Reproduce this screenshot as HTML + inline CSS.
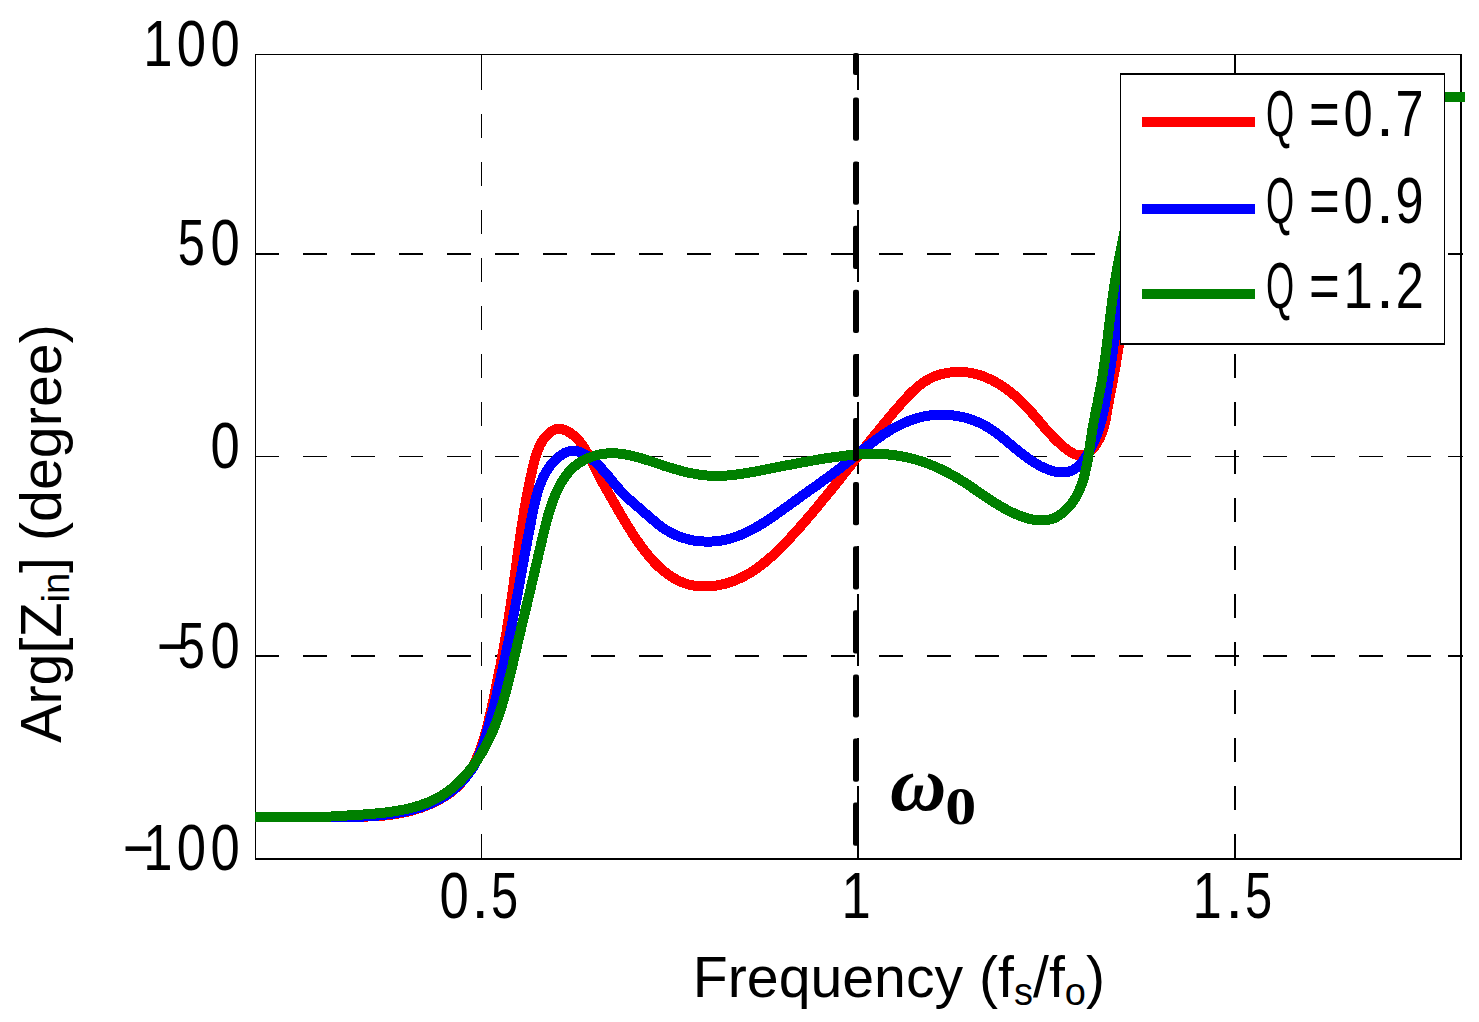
<!DOCTYPE html>
<html><head><meta charset="utf-8"><title>chart</title>
<style>html,body{margin:0;padding:0;background:#fff}svg{display:block}text{font-family:"Liberation Sans",sans-serif;fill:#000}.s{font-family:"Liberation Serif",serif}</style></head><body>
<svg width="1479" height="1022" viewBox="0 0 1479 1022">
<rect width="1479" height="1022" fill="#fff"/>
<g stroke="#000" fill="none" shape-rendering="crispEdges">
<line x1="481.5" y1="858" x2="481.5" y2="54" stroke-width="1" stroke-dasharray="24 24"/>
<line x1="481.5" y1="54" x2="481.5" y2="66" stroke-width="1"/>
<line x1="858" y1="858" x2="858" y2="54" stroke-width="2" stroke-dasharray="24 24"/>
<line x1="858" y1="54" x2="858" y2="66" stroke-width="2"/>
<line x1="1235" y1="858" x2="1235" y2="54" stroke-width="2" stroke-dasharray="24 24"/>
<line x1="1235" y1="54" x2="1235" y2="66" stroke-width="2"/>
<line x1="255" y1="254" x2="1461" y2="254" stroke-width="2" stroke-dasharray="24 24"/>
<line x1="1448" y1="254" x2="1463" y2="254" stroke-width="2"/>
<line x1="255" y1="456.5" x2="1461" y2="456.5" stroke-width="1" stroke-dasharray="24 24"/>
<line x1="1448" y1="456.5" x2="1463" y2="456.5" stroke-width="1"/>
<line x1="255" y1="656" x2="1461" y2="656" stroke-width="2" stroke-dasharray="24 24"/>
<line x1="1448" y1="656" x2="1463" y2="656" stroke-width="2"/>
</g>
<g fill="#000" shape-rendering="crispEdges">
<rect x="255" y="54" width="1207" height="1"/>
<rect x="255" y="54" width="1" height="806"/>
<rect x="255" y="858" width="1207" height="2"/>
<rect x="1460" y="54" width="2" height="806"/>
</g>
<g fill="none" stroke-width="10" stroke-linejoin="round" shape-rendering="crispEdges">
<path d="M255.0 817.0 L290.0 817.0 L320.0 817.0 L319.9 817.1 L322.5 817.0 L325.1 817.0 L327.7 816.9 L330.2 816.9 L332.8 816.9 L335.4 816.9 L337.9 816.9 L340.5 816.9 L343.0 816.8 L345.5 816.8 L348.1 816.8 L350.6 816.8 L353.1 816.8 L355.6 816.8 L358.2 816.8 L360.7 816.7 L363.2 816.7 L365.7 816.6 L368.2 816.5 L370.7 816.4 L373.2 816.3 L375.7 816.2 L378.2 816.0 L380.7 815.8 L383.2 815.6 L385.6 815.4 L388.1 815.1 L390.6 814.8 L393.1 814.4 L395.6 814.0 L398.1 813.6 L400.6 813.2 L403.1 812.7 L405.6 812.1 L408.2 811.5 L410.7 810.9 L413.2 810.2 L415.7 809.5 L418.1 808.7 L420.6 807.9 L423.1 807.0 L425.5 806.1 L427.9 805.1 L430.3 804.1 L432.7 803.0 L435.0 801.9 L437.3 800.7 L439.6 799.5 L441.8 798.3 L444.0 797.0 L446.1 795.6 L448.2 794.2 L450.3 792.7 L452.2 791.2 L454.2 789.6 L456.0 788.0 L457.8 786.3 L459.6 784.6 L461.2 782.8 L462.8 781.0 L464.4 779.1 L465.9 777.2 L467.3 775.2 L468.7 773.2 L470.0 771.1 L471.2 769.0 L472.5 766.9 L473.6 764.7 L474.7 762.5 L475.8 760.3 L476.9 758.0 L477.8 755.7 L478.8 753.4 L479.7 751.0 L480.6 748.6 L481.4 746.2 L482.3 743.8 L483.0 741.4 L483.8 738.9 L484.5 736.4 L485.2 733.9 L485.9 731.4 L486.6 728.9 L487.2 726.4 L487.9 723.9 L488.5 721.4 L489.1 718.8 L489.7 716.3 L490.3 713.7 L490.8 711.2 L491.4 708.7 L492.0 706.1 L492.5 703.6 L493.1 701.1 L493.6 698.6 L494.2 696.1 L494.7 693.5 L495.2 691.0 L495.8 688.5 L496.3 686.0 L496.8 683.5 L497.3 681.0 L497.8 678.5 L498.3 676.0 L498.8 673.5 L499.3 671.0 L499.8 668.6 L500.3 666.1 L500.8 663.6 L501.3 661.1 L501.7 658.6 L502.2 656.1 L502.6 653.7 L503.1 651.2 L503.6 648.7 L504.0 646.2 L504.4 643.7 L504.9 641.3 L505.3 638.8 L505.7 636.3 L506.2 633.8 L506.6 631.4 L507.0 628.9 L507.4 626.4 L507.8 623.9 L508.2 621.4 L508.6 619.0 L509.0 616.5 L509.3 614.0 L509.7 611.5 L510.1 609.0 L510.5 606.6 L510.8 604.1 L511.2 601.6 L511.5 599.1 L511.9 596.6 L512.2 594.1 L512.6 591.6 L512.9 589.1 L513.3 586.7 L513.6 584.2 L514.0 581.7 L514.3 579.2 L514.6 576.7 L515.0 574.2 L515.3 571.7 L515.7 569.2 L516.0 566.7 L516.3 564.2 L516.7 561.7 L517.0 559.2 L517.4 556.7 L517.7 554.2 L518.0 551.6 L518.4 549.1 L518.7 546.6 L519.1 544.1 L519.5 541.6 L519.8 539.1 L520.2 536.6 L520.6 534.0 L520.9 531.5 L521.3 529.0 L521.7 526.5 L522.1 524.0 L522.5 521.4 L522.9 518.9 L523.3 516.4 L523.7 513.9 L524.1 511.3 L524.5 508.8 L525.0 506.3 L525.4 503.7 L525.9 501.2 L526.3 498.7 L526.8 496.1 L527.3 493.6 L527.8 491.0 L528.3 488.5 L528.8 485.9 L529.3 483.4 L529.8 480.8 L530.4 478.3 L530.9 475.7 L531.5 473.2 L532.0 470.6 L532.6 468.1 L533.2 465.5 L533.9 463.0 L534.5 460.5 L535.2 458.0 L536.0 455.5 L536.8 453.1 L537.7 450.7 L538.6 448.4 L539.6 446.1 L540.7 444.0 L541.9 441.8 L543.3 439.8 L544.7 437.9 L546.2 436.1 L547.9 434.3 L549.7 432.7 L551.7 431.3 L553.7 430.2 L555.8 429.3 L558.0 428.9 L560.2 428.9 L562.5 429.3 L564.8 430.0 L567.0 431.0 L569.2 432.3 L571.4 433.7 L573.4 435.3 L575.4 437.0 L577.2 438.8 L578.9 440.7 L580.6 442.7 L582.1 444.7 L583.6 446.8 L585.0 449.0 L586.3 451.2 L587.6 453.4 L588.8 455.7 L590.0 458.0 L591.2 460.4 L592.4 462.7 L593.5 465.1 L594.6 467.4 L595.8 469.8 L596.9 472.1 L598.1 474.4 L599.3 476.7 L600.5 479.0 L601.8 481.2 L603.0 483.4 L604.3 485.6 L605.5 487.8 L606.8 490.0 L608.0 492.2 L609.3 494.4 L610.5 496.5 L611.8 498.7 L613.0 500.9 L614.2 503.0 L615.5 505.1 L616.7 507.3 L617.9 509.4 L619.1 511.5 L620.4 513.7 L621.6 515.8 L622.9 517.9 L624.1 520.1 L625.4 522.2 L626.7 524.3 L628.0 526.4 L629.3 528.6 L630.7 530.7 L632.0 532.9 L633.4 535.0 L634.9 537.2 L636.3 539.3 L637.8 541.5 L639.3 543.6 L640.8 545.8 L642.3 547.9 L643.9 550.0 L645.5 552.0 L647.2 554.1 L648.8 556.1 L650.5 558.1 L652.3 560.0 L654.0 562.0 L655.8 563.8 L657.6 565.6 L659.5 567.4 L661.4 569.1 L663.3 570.8 L665.3 572.3 L667.3 573.9 L669.3 575.3 L671.4 576.7 L673.5 578.0 L675.7 579.2 L677.8 580.4 L680.1 581.4 L682.3 582.4 L684.6 583.2 L687.0 584.0 L689.4 584.7 L691.8 585.2 L694.2 585.7 L696.7 586.0 L699.3 586.3 L701.8 586.4 L704.4 586.5 L707.0 586.4 L709.6 586.3 L712.1 586.1 L714.7 585.8 L717.3 585.4 L719.8 584.9 L722.3 584.4 L724.8 583.8 L727.3 583.1 L729.7 582.3 L732.1 581.5 L734.4 580.6 L736.7 579.7 L739.0 578.7 L741.3 577.6 L743.5 576.5 L745.7 575.3 L747.9 574.1 L750.1 572.8 L752.2 571.5 L754.3 570.1 L756.4 568.7 L758.4 567.3 L760.4 565.8 L762.4 564.2 L764.4 562.6 L766.4 561.0 L768.3 559.4 L770.2 557.7 L772.1 556.0 L774.0 554.3 L775.9 552.5 L777.7 550.8 L779.6 549.0 L781.4 547.1 L783.2 545.3 L785.0 543.4 L786.8 541.6 L788.5 539.7 L790.3 537.8 L792.0 535.9 L793.8 534.0 L795.5 532.1 L797.2 530.2 L798.9 528.3 L800.6 526.4 L802.3 524.4 L804.0 522.5 L805.7 520.6 L807.3 518.7 L809.0 516.7 L810.6 514.8 L812.3 512.8 L813.9 510.9 L815.5 508.9 L817.2 507.0 L818.8 505.0 L820.4 503.1 L822.0 501.1 L823.6 499.2 L825.2 497.2 L826.8 495.3 L828.4 493.3 L830.0 491.3 L831.6 489.4 L833.2 487.4 L834.8 485.4 L836.3 483.5 L837.9 481.5 L839.5 479.5 L841.0 477.5 L842.6 475.6 L844.2 473.6 L845.7 471.6 L847.3 469.6 L848.9 467.7 L850.4 465.7 L852.0 463.7 L853.6 461.7 L855.1 459.7 L856.7 457.8 L858.2 455.8 L859.8 453.8 L861.4 451.8 L862.9 449.9 L864.5 447.9 L866.1 445.9 L867.7 443.9 L869.2 442.0 L870.8 440.0 L872.4 438.0 L874.0 436.1 L875.6 434.1 L877.2 432.1 L878.8 430.2 L880.4 428.2 L882.0 426.3 L883.6 424.3 L885.2 422.3 L886.8 420.4 L888.5 418.4 L890.1 416.5 L891.7 414.5 L893.4 412.6 L895.0 410.7 L896.7 408.7 L898.4 406.8 L900.1 404.9 L901.7 402.9 L903.4 401.0 L905.2 399.1 L906.9 397.3 L908.6 395.4 L910.4 393.6 L912.2 391.8 L914.1 390.1 L915.9 388.4 L917.9 386.8 L919.8 385.2 L921.8 383.7 L923.8 382.3 L925.9 380.9 L928.1 379.6 L930.3 378.4 L932.5 377.3 L934.9 376.3 L937.3 375.4 L939.7 374.6 L942.2 373.9 L944.7 373.4 L947.3 372.9 L949.9 372.5 L952.5 372.2 L955.1 372.0 L957.7 371.9 L960.3 371.9 L962.8 372.0 L965.4 372.2 L967.9 372.5 L970.4 372.9 L972.8 373.3 L975.3 373.9 L977.7 374.5 L980.1 375.3 L982.4 376.0 L984.8 376.9 L987.1 377.9 L989.3 378.9 L991.6 379.9 L993.8 381.1 L996.0 382.3 L998.2 383.6 L1000.3 384.9 L1002.5 386.3 L1004.5 387.7 L1006.6 389.2 L1008.6 390.7 L1010.7 392.3 L1012.6 393.9 L1014.6 395.5 L1016.5 397.2 L1018.4 398.9 L1020.3 400.7 L1022.1 402.5 L1024.0 404.3 L1025.7 406.1 L1027.5 408.0 L1029.2 409.8 L1030.9 411.7 L1032.6 413.6 L1034.3 415.5 L1035.9 417.5 L1037.6 419.4 L1039.2 421.3 L1040.8 423.2 L1042.5 425.2 L1044.1 427.1 L1045.8 429.0 L1047.4 430.9 L1049.1 432.8 L1050.8 434.7 L1052.6 436.5 L1054.3 438.4 L1056.2 440.2 L1058.0 442.0 L1059.9 443.7 L1061.9 445.5 L1063.9 447.1 L1066.0 448.8 L1068.1 450.4 L1070.3 451.8 L1072.5 453.1 L1074.7 454.2 L1076.9 455.0 L1079.1 455.4 L1081.2 455.5 L1083.3 455.2 L1085.4 454.6 L1087.4 453.5 L1089.3 452.1 L1091.2 450.5 L1093.0 448.6 L1094.6 446.5 L1096.2 444.2 L1097.7 441.8 L1099.1 439.3 L1100.3 436.8 L1101.4 434.2 L1102.4 431.7 L1103.2 429.2 L1104.0 426.7 L1104.6 424.2 L1105.2 421.7 L1105.7 419.3 L1106.2 416.8 L1106.6 414.4 L1107.0 411.9 L1107.4 409.5 L1107.9 407.1 L1108.3 404.6 L1108.7 402.2 L1109.2 399.7 L1109.6 397.3 L1110.1 394.8 L1110.6 392.4 L1111.0 389.9 L1111.5 387.4 L1112.0 385.0 L1112.5 382.5 L1112.9 380.0 L1113.4 377.5 L1113.9 375.1 L1114.3 372.6 L1114.8 370.1 L1115.2 367.6 L1115.7 365.1 L1116.1 362.6 L1116.5 360.1 L1116.9 357.6 L1117.3 355.1 L1117.7 352.6 L1118.1 350.1 L1118.5 347.6 L1118.9 345.1 L1119.3 342.5 L1119.6 340.0 L1120.0 337.5 L1120.3 335.0 L1120.7 332.5 L1121.0 329.9 L1121.3 327.4 L1121.7 324.9 L1122.0 322.4 L1122.3 319.8 L1122.7 317.3 L1123.0 314.8 L1123.3 312.3 L1123.7 309.7 L1124.0 307.2 L1124.3 304.7 L1124.6 302.1 L1125.0 299.6 L1125.3 297.1 L1125.6 294.6 L1126.0 292.0 L1126.3 289.5 L1126.6 287.0 L1127.0 284.4 L1127.3 281.9 L1127.7 279.4 L1128.1 276.9 L1128.4 274.4 L1128.8 271.8 L1129.2 269.3 L1129.6 266.8 L1130.0 264.3 L1130.4 261.8 L1130.8 259.3 L1131.2 256.8 L1131.7 254.3 L1132.1 251.8 L1132.6 249.3 L1133.0 246.8 L1133.5 244.3 L1134.0 241.8 L1134.5 239.3 L1135.0 236.8 L1135.5 234.4 L1136.1 231.9 L1136.6 229.4 L1137.2 227.0 L1137.8 224.5 L1138.4 222.0 L1139.0 219.6 L1139.6 217.1 L1140.3 214.7 L1141.0 212.3 L1141.6 209.8 L1142.3 207.4 L1143.1 205.0 L1143.8 202.6 L1144.6 200.1 L1145.4 197.7 L1146.2 195.3 L1147.0 192.9 L1147.8 190.6 L1148.7 188.2 L1149.6 185.8 L1150.5 183.4 L1151.4 181.1 L1152.4 178.7 L1153.4 176.4 L1154.4 174.0 L1155.4 171.7 L1156.5 169.3 L1157.6 167.0 L1158.7 164.7 L1159.8 162.4 L1161.0 160.1 L1162.2 157.9 L1163.4 155.6 L1164.7 153.4 L1166.0 151.2 L1167.3 149.0 L1168.7 146.8 L1170.1 144.7 L1171.5 142.6 L1172.9 140.5 L1174.4 138.5 L1175.9 136.5 L1177.5 134.5 L1179.1 132.6 L1180.7 130.7 L1182.4 128.9 L1184.1 127.1 L1185.9 125.3 L1187.6 123.6 L1189.5 122.0 L1191.3 120.4 L1193.2 118.8 L1195.2 117.4 L1197.2 115.9 L1199.2 114.6 L1201.3 113.3 L1203.4 112.0 L1205.6 110.9 L1207.8 109.8 L1210.1 108.8 L1212.4 107.8 L1214.8 106.9 L1217.2 106.1 L1219.6 105.4 L1222.1 104.7 L1224.7 104.1 L1227.2 103.6 L1229.8 103.1 L1232.4 102.6 L1235.1 102.2 L1237.7 101.9 L1240.4 101.5 L1243.0 101.3 L1245.7 101.0 L1248.4 100.8 L1251.1 100.6 L1253.8 100.4 L1256.5 100.2 L1259.1 100.1 L1261.8 99.9 L1264.4 99.8 L1267.0 99.7 L1269.6 99.5 L1272.2 99.4 L1274.7 99.3 L1277.3 99.1 L1279.8 99.0 L1282.3 98.8 L1284.8 98.7 L1287.3 98.6 L1289.7 98.4 L1292.2 98.3 L1294.6 98.2 L1297.1 98.0 L1299.5 97.9 L1302.0 97.8 L1304.4 97.7 L1306.9 97.6 L1309.3 97.5 L1311.8 97.4 L1314.2 97.3 L1316.7 97.2 L1319.1 97.1 L1321.6 97.0 L1324.1 96.9 L1326.6 96.8 L1329.1 96.8 L1331.7 96.7 L1334.2 96.7 L1336.8 96.6 L1339.4 96.6 L1342.0 96.5 L1344.7 96.5 L1347.3 96.5 L1350.0 96.5 L1350.0 96.5 L1420.0 96.5 L1464.0 96.5" stroke="#ff0000"/>
<path d="M255.0 817.0 L290.0 817.0 L320.0 817.0 L320.0 817.0 L322.3 817.0 L324.7 817.0 L327.1 817.0 L329.4 817.0 L331.8 817.0 L334.1 817.1 L336.5 817.1 L338.8 817.0 L341.2 817.0 L343.5 817.0 L345.9 817.0 L348.2 817.0 L350.5 816.9 L352.9 816.9 L355.2 816.8 L357.6 816.8 L359.9 816.7 L362.2 816.6 L364.5 816.5 L366.9 816.4 L369.2 816.2 L371.5 816.1 L373.9 815.9 L376.2 815.7 L378.5 815.5 L380.8 815.3 L383.2 815.0 L385.5 814.7 L387.8 814.4 L390.2 814.1 L392.5 813.8 L394.8 813.4 L397.1 813.0 L399.5 812.6 L401.8 812.2 L404.1 811.7 L406.4 811.2 L408.7 810.6 L411.0 810.1 L413.3 809.5 L415.6 808.8 L417.8 808.2 L420.1 807.4 L422.3 806.7 L424.5 805.9 L426.7 805.1 L428.9 804.2 L431.1 803.3 L433.2 802.3 L435.3 801.3 L437.4 800.3 L439.5 799.2 L441.5 798.0 L443.5 796.8 L445.5 795.6 L447.4 794.3 L449.3 792.9 L451.2 791.5 L453.0 790.1 L454.8 788.6 L456.6 787.0 L458.3 785.4 L460.0 783.8 L461.6 782.1 L463.2 780.4 L464.8 778.6 L466.3 776.8 L467.7 774.9 L469.1 773.0 L470.5 771.1 L471.8 769.2 L473.1 767.2 L474.2 765.2 L475.4 763.1 L476.5 761.1 L477.5 759.0 L478.5 756.9 L479.4 754.7 L480.3 752.6 L481.1 750.4 L481.9 748.2 L482.7 746.0 L483.4 743.8 L484.2 741.6 L484.9 739.4 L485.5 737.1 L486.2 734.9 L486.8 732.6 L487.4 730.4 L488.1 728.1 L488.7 725.8 L489.3 723.5 L489.9 721.3 L490.5 719.0 L491.1 716.7 L491.7 714.4 L492.3 712.1 L492.9 709.9 L493.4 707.6 L494.0 705.3 L494.6 703.0 L495.2 700.7 L495.7 698.4 L496.3 696.1 L496.8 693.8 L497.4 691.5 L497.9 689.2 L498.5 686.9 L499.0 684.6 L499.6 682.3 L500.1 680.0 L500.6 677.7 L501.1 675.4 L501.7 673.1 L502.2 670.8 L502.7 668.5 L503.2 666.2 L503.7 663.9 L504.2 661.6 L504.7 659.3 L505.2 657.0 L505.7 654.7 L506.2 652.4 L506.7 650.2 L507.1 647.9 L507.6 645.6 L508.1 643.3 L508.6 641.0 L509.0 638.7 L509.5 636.4 L509.9 634.1 L510.4 631.8 L510.8 629.5 L511.3 627.2 L511.7 625.0 L512.2 622.7 L512.6 620.4 L513.1 618.1 L513.5 615.8 L513.9 613.5 L514.4 611.2 L514.8 609.0 L515.2 606.7 L515.6 604.4 L516.1 602.1 L516.5 599.8 L516.9 597.5 L517.3 595.3 L517.7 593.0 L518.2 590.7 L518.6 588.4 L519.0 586.1 L519.4 583.8 L519.8 581.5 L520.2 579.2 L520.7 576.9 L521.1 574.6 L521.5 572.3 L521.9 570.0 L522.3 567.7 L522.8 565.4 L523.2 563.1 L523.6 560.8 L524.0 558.5 L524.4 556.2 L524.9 553.9 L525.3 551.6 L525.7 549.3 L526.1 546.9 L526.6 544.6 L527.0 542.3 L527.4 540.0 L527.9 537.6 L528.3 535.3 L528.8 533.0 L529.2 530.6 L529.7 528.3 L530.1 525.9 L530.6 523.6 L531.0 521.2 L531.5 518.8 L532.0 516.5 L532.4 514.1 L532.9 511.7 L533.4 509.4 L533.9 507.0 L534.4 504.7 L534.9 502.3 L535.5 500.0 L536.1 497.6 L536.7 495.3 L537.3 493.0 L538.0 490.8 L538.7 488.5 L539.5 486.3 L540.3 484.1 L541.2 482.0 L542.1 479.8 L543.0 477.7 L544.0 475.7 L545.1 473.7 L546.2 471.7 L547.4 469.8 L548.7 467.9 L550.0 466.1 L551.4 464.3 L552.9 462.6 L554.5 460.9 L556.1 459.3 L557.9 457.7 L559.7 456.3 L561.6 454.9 L563.6 453.6 L565.6 452.5 L567.7 451.7 L569.9 451.1 L572.1 450.8 L574.3 450.8 L576.5 451.1 L578.7 451.7 L580.9 452.5 L583.0 453.5 L585.1 454.7 L587.2 455.9 L589.1 457.2 L591.0 458.6 L592.9 460.1 L594.7 461.6 L596.4 463.2 L598.1 464.9 L599.8 466.5 L601.4 468.3 L603.0 470.1 L604.6 471.9 L606.2 473.7 L607.7 475.5 L609.3 477.4 L610.8 479.2 L612.3 481.1 L613.8 482.9 L615.4 484.8 L616.9 486.6 L618.4 488.4 L620.0 490.1 L621.6 491.8 L623.2 493.5 L624.9 495.2 L626.5 496.8 L628.2 498.4 L629.9 499.9 L631.6 501.5 L633.3 503.0 L635.1 504.5 L636.8 506.0 L638.6 507.5 L640.3 509.0 L642.1 510.6 L643.8 512.1 L645.6 513.7 L647.4 515.2 L649.2 516.8 L651.0 518.3 L652.8 519.9 L654.6 521.4 L656.4 522.9 L658.3 524.4 L660.2 525.9 L662.1 527.3 L664.0 528.6 L666.0 529.9 L668.0 531.1 L670.0 532.3 L672.1 533.4 L674.2 534.4 L676.4 535.4 L678.5 536.3 L680.7 537.1 L683.0 537.8 L685.2 538.5 L687.5 539.1 L689.8 539.7 L692.0 540.1 L694.4 540.6 L696.7 540.9 L699.0 541.2 L701.3 541.4 L703.7 541.5 L706.0 541.6 L708.4 541.6 L710.7 541.6 L713.0 541.4 L715.4 541.3 L717.7 541.0 L720.0 540.7 L722.3 540.3 L724.6 539.9 L726.8 539.4 L729.1 538.8 L731.3 538.2 L733.5 537.5 L735.7 536.8 L737.9 536.0 L740.0 535.1 L742.2 534.3 L744.3 533.3 L746.4 532.3 L748.5 531.3 L750.6 530.3 L752.7 529.2 L754.8 528.1 L756.9 526.9 L758.9 525.7 L761.0 524.5 L763.0 523.2 L765.0 522.0 L767.0 520.7 L769.0 519.3 L771.0 518.0 L773.0 516.7 L775.0 515.3 L776.9 513.9 L778.9 512.5 L780.8 511.1 L782.8 509.7 L784.7 508.3 L786.6 506.9 L788.6 505.5 L790.5 504.1 L792.4 502.7 L794.3 501.4 L796.2 500.0 L798.1 498.6 L800.0 497.3 L801.9 495.9 L803.8 494.5 L805.7 493.2 L807.6 491.9 L809.5 490.5 L811.4 489.2 L813.2 487.8 L815.1 486.5 L817.0 485.2 L818.9 483.8 L820.7 482.5 L822.6 481.1 L824.4 479.8 L826.3 478.4 L828.2 477.1 L830.0 475.7 L831.9 474.3 L833.7 472.9 L835.6 471.5 L837.4 470.1 L839.3 468.7 L841.1 467.2 L843.0 465.8 L844.8 464.3 L846.6 462.8 L848.5 461.3 L850.3 459.9 L852.2 458.4 L854.0 456.9 L855.9 455.4 L857.7 453.9 L859.6 452.4 L861.5 450.9 L863.3 449.4 L865.2 447.9 L867.1 446.4 L869.0 445.0 L870.9 443.5 L872.8 442.1 L874.7 440.7 L876.6 439.3 L878.5 437.9 L880.5 436.6 L882.4 435.2 L884.4 433.9 L886.4 432.7 L888.3 431.4 L890.3 430.2 L892.3 429.0 L894.4 427.9 L896.4 426.7 L898.4 425.7 L900.5 424.6 L902.6 423.6 L904.7 422.7 L906.8 421.8 L908.9 420.9 L911.1 420.1 L913.3 419.4 L915.4 418.7 L917.7 418.0 L919.9 417.4 L922.1 416.9 L924.4 416.4 L926.7 416.0 L929.0 415.6 L931.3 415.3 L933.7 415.1 L936.0 414.9 L938.4 414.8 L940.7 414.7 L943.1 414.7 L945.5 414.8 L947.8 414.9 L950.2 415.1 L952.6 415.4 L954.9 415.7 L957.3 416.0 L959.6 416.5 L961.9 416.9 L964.2 417.5 L966.5 418.1 L968.8 418.8 L971.1 419.5 L973.3 420.3 L975.5 421.1 L977.7 422.0 L979.8 423.0 L981.9 424.0 L984.0 425.1 L986.0 426.2 L988.0 427.4 L990.0 428.6 L991.9 429.9 L993.8 431.2 L995.7 432.6 L997.6 434.0 L999.5 435.4 L1001.3 436.8 L1003.2 438.3 L1005.0 439.8 L1006.8 441.3 L1008.6 442.8 L1010.4 444.3 L1012.2 445.8 L1014.0 447.3 L1015.9 448.9 L1017.7 450.4 L1019.5 451.8 L1021.4 453.3 L1023.2 454.8 L1025.1 456.2 L1027.0 457.6 L1028.9 459.0 L1030.9 460.3 L1032.8 461.6 L1034.8 462.9 L1036.9 464.1 L1038.9 465.3 L1041.0 466.4 L1043.2 467.4 L1045.3 468.4 L1047.5 469.3 L1049.8 470.1 L1052.0 470.8 L1054.2 471.4 L1056.5 471.9 L1058.7 472.2 L1060.9 472.4 L1063.0 472.4 L1065.2 472.3 L1067.3 471.9 L1069.3 471.4 L1071.3 470.7 L1073.3 469.8 L1075.1 468.6 L1076.9 467.3 L1078.7 465.8 L1080.3 464.1 L1081.9 462.3 L1083.5 460.4 L1084.9 458.3 L1086.3 456.2 L1087.7 454.0 L1089.0 451.8 L1090.2 449.6 L1091.4 447.3 L1092.5 445.1 L1093.5 442.9 L1094.5 440.6 L1095.4 438.4 L1096.3 436.2 L1097.2 434.0 L1098.0 431.8 L1098.7 429.6 L1099.4 427.4 L1100.1 425.2 L1100.7 423.0 L1101.3 420.8 L1101.9 418.6 L1102.4 416.3 L1102.9 414.1 L1103.4 411.9 L1103.8 409.7 L1104.3 407.5 L1104.7 405.3 L1105.1 403.0 L1105.5 400.8 L1105.8 398.5 L1106.2 396.3 L1106.5 394.0 L1106.9 391.7 L1107.2 389.4 L1107.6 387.1 L1107.9 384.8 L1108.3 382.5 L1108.6 380.2 L1108.9 377.8 L1109.3 375.5 L1109.6 373.1 L1110.0 370.8 L1110.3 368.4 L1110.7 366.0 L1111.0 363.6 L1111.4 361.3 L1111.7 358.9 L1112.0 356.5 L1112.4 354.1 L1112.7 351.7 L1113.1 349.4 L1113.4 347.0 L1113.7 344.6 L1114.1 342.2 L1114.4 339.9 L1114.8 337.5 L1115.1 335.2 L1115.4 332.8 L1115.8 330.5 L1116.1 328.2 L1116.4 325.9 L1116.8 323.5 L1117.1 321.2 L1117.5 318.9 L1117.8 316.6 L1118.1 314.3 L1118.5 312.0 L1118.8 309.7 L1119.2 307.5 L1119.5 305.2 L1119.9 302.9 L1120.2 300.6 L1120.5 298.3 L1120.9 296.1 L1121.3 293.8 L1121.6 291.5 L1122.0 289.3 L1122.3 287.0 L1122.7 284.7 L1123.1 282.5 L1123.4 280.2 L1123.8 277.9 L1124.2 275.7 L1124.6 273.4 L1125.0 271.1 L1125.4 268.9 L1125.8 266.6 L1126.2 264.3 L1126.6 262.1 L1127.0 259.8 L1127.4 257.5 L1127.8 255.2 L1128.2 253.0 L1128.7 250.7 L1129.1 248.4 L1129.6 246.1 L1130.0 243.8 L1130.5 241.5 L1130.9 239.2 L1131.4 236.9 L1131.9 234.6 L1132.4 232.3 L1132.8 229.9 L1133.3 227.6 L1133.8 225.3 L1134.4 222.9 L1134.9 220.6 L1135.4 218.2 L1135.9 215.9 L1136.5 213.5 L1137.0 211.1 L1137.6 208.8 L1138.2 206.4 L1138.8 204.0 L1139.4 201.7 L1140.0 199.3 L1140.7 196.9 L1141.3 194.6 L1142.0 192.2 L1142.7 189.9 L1143.4 187.6 L1144.1 185.2 L1144.9 182.9 L1145.6 180.6 L1146.4 178.3 L1147.3 176.1 L1148.1 173.8 L1149.0 171.6 L1149.9 169.4 L1150.8 167.2 L1151.7 165.0 L1152.7 162.8 L1153.7 160.7 L1154.8 158.6 L1155.8 156.5 L1156.9 154.4 L1158.1 152.4 L1159.2 150.4 L1160.4 148.4 L1161.7 146.5 L1162.9 144.6 L1164.2 142.7 L1165.6 140.9 L1167.0 139.1 L1168.4 137.4 L1169.9 135.6 L1171.4 134.0 L1172.9 132.3 L1174.5 130.7 L1176.2 129.2 L1177.9 127.7 L1179.6 126.2 L1181.3 124.8 L1183.2 123.4 L1185.0 122.1 L1186.9 120.8 L1188.8 119.5 L1190.7 118.3 L1192.7 117.2 L1194.7 116.0 L1196.8 114.9 L1198.9 113.9 L1201.0 112.9 L1203.1 111.9 L1205.3 111.0 L1207.4 110.1 L1209.6 109.2 L1211.9 108.4 L1214.1 107.6 L1216.4 106.8 L1218.6 106.1 L1220.9 105.4 L1223.3 104.7 L1225.6 104.1 L1227.9 103.5 L1230.3 103.0 L1232.6 102.4 L1235.0 101.9 L1237.4 101.5 L1239.7 101.0 L1242.1 100.6 L1244.5 100.2 L1246.9 99.9 L1249.3 99.6 L1251.7 99.3 L1254.0 99.0 L1256.4 98.8 L1258.8 98.6 L1261.2 98.4 L1263.5 98.2 L1265.9 98.1 L1268.2 97.9 L1270.6 97.8 L1272.9 97.8 L1275.3 97.7 L1277.6 97.7 L1279.9 97.6 L1282.3 97.6 L1284.6 97.6 L1286.9 97.6 L1289.2 97.6 L1291.5 97.6 L1293.8 97.7 L1296.2 97.7 L1298.5 97.7 L1300.8 97.8 L1303.1 97.8 L1305.4 97.8 L1307.7 97.9 L1310.0 97.9 L1312.3 97.9 L1314.7 98.0 L1317.0 98.0 L1319.3 98.0 L1321.6 98.0 L1324.0 97.9 L1326.3 97.9 L1328.7 97.8 L1331.0 97.8 L1333.4 97.7 L1335.7 97.6 L1338.1 97.4 L1340.5 97.3 L1342.8 97.1 L1345.2 96.9 L1347.6 96.7 L1350.0 96.4 L1350.0 96.5 L1420.0 96.5 L1464.0 96.5" stroke="#0000ff"/>
<path d="M255.0 817.0 L290.0 817.0 L320.0 817.0 L320.6 817.5 L322.7 817.3 L324.8 817.1 L326.9 816.9 L329.1 816.7 L331.2 816.5 L333.4 816.4 L335.6 816.2 L337.8 816.1 L340.1 815.9 L342.3 815.8 L344.6 815.7 L346.8 815.5 L349.1 815.4 L351.4 815.3 L353.7 815.1 L356.0 815.0 L358.3 814.8 L360.6 814.7 L362.9 814.5 L365.3 814.4 L367.6 814.2 L369.9 814.0 L372.2 813.8 L374.6 813.6 L376.9 813.4 L379.3 813.2 L381.6 812.9 L383.9 812.7 L386.2 812.4 L388.6 812.1 L390.9 811.8 L393.2 811.4 L395.5 811.1 L397.8 810.7 L400.1 810.3 L402.3 809.8 L404.6 809.4 L406.8 808.9 L409.1 808.4 L411.3 807.8 L413.5 807.2 L415.7 806.6 L417.9 805.9 L420.0 805.3 L422.2 804.5 L424.3 803.8 L426.4 803.0 L428.5 802.1 L430.5 801.2 L432.6 800.3 L434.6 799.4 L436.6 798.3 L438.5 797.3 L440.5 796.2 L442.4 795.0 L444.2 793.8 L446.1 792.6 L447.9 791.3 L449.7 790.0 L451.5 788.6 L453.2 787.2 L454.9 785.7 L456.6 784.2 L458.3 782.7 L459.9 781.1 L461.5 779.5 L463.1 777.8 L464.6 776.2 L466.1 774.5 L467.6 772.7 L469.1 771.0 L470.5 769.2 L471.9 767.4 L473.3 765.5 L474.6 763.7 L476.0 761.8 L477.3 759.9 L478.5 757.9 L479.8 756.0 L481.0 754.0 L482.2 752.0 L483.3 750.1 L484.4 748.0 L485.5 746.0 L486.6 744.0 L487.6 742.0 L488.7 739.9 L489.6 737.8 L490.6 735.8 L491.5 733.7 L492.5 731.6 L493.4 729.5 L494.2 727.4 L495.1 725.3 L495.9 723.2 L496.7 721.0 L497.5 718.9 L498.3 716.7 L499.0 714.6 L499.7 712.4 L500.5 710.3 L501.2 708.1 L501.8 705.9 L502.5 703.7 L503.2 701.5 L503.8 699.3 L504.4 697.1 L505.0 694.9 L505.7 692.7 L506.2 690.5 L506.8 688.3 L507.4 686.1 L508.0 683.9 L508.5 681.7 L509.1 679.4 L509.6 677.2 L510.2 675.0 L510.7 672.8 L511.2 670.5 L511.8 668.3 L512.3 666.1 L512.8 663.8 L513.3 661.6 L513.9 659.4 L514.4 657.1 L514.9 654.9 L515.4 652.7 L516.0 650.4 L516.5 648.2 L517.0 646.0 L517.5 643.8 L518.1 641.5 L518.6 639.3 L519.1 637.1 L519.6 634.9 L520.2 632.6 L520.7 630.4 L521.2 628.2 L521.7 626.0 L522.3 623.8 L522.8 621.5 L523.3 619.3 L523.9 617.1 L524.4 614.9 L524.9 612.7 L525.4 610.5 L526.0 608.2 L526.5 606.0 L527.0 603.8 L527.5 601.6 L528.1 599.4 L528.6 597.2 L529.1 595.0 L529.6 592.8 L530.2 590.5 L530.7 588.3 L531.2 586.1 L531.7 583.9 L532.2 581.7 L532.8 579.5 L533.3 577.3 L533.8 575.1 L534.3 572.9 L534.8 570.7 L535.3 568.4 L535.9 566.2 L536.4 564.0 L536.9 561.8 L537.4 559.6 L537.9 557.4 L538.4 555.2 L539.0 552.9 L539.5 550.7 L540.0 548.5 L540.5 546.3 L541.0 544.0 L541.6 541.8 L542.1 539.6 L542.6 537.3 L543.1 535.1 L543.7 532.8 L544.2 530.6 L544.8 528.3 L545.3 526.1 L545.9 523.9 L546.5 521.6 L547.1 519.4 L547.7 517.2 L548.3 514.9 L549.0 512.7 L549.7 510.5 L550.4 508.3 L551.1 506.1 L551.8 503.9 L552.6 501.7 L553.4 499.6 L554.3 497.4 L555.1 495.3 L556.0 493.1 L557.0 491.0 L558.0 488.9 L559.0 486.8 L560.1 484.8 L561.2 482.8 L562.4 480.8 L563.6 478.8 L564.9 477.0 L566.2 475.1 L567.6 473.4 L569.1 471.6 L570.6 470.0 L572.2 468.4 L573.9 466.9 L575.6 465.5 L577.4 464.2 L579.3 462.9 L581.2 461.7 L583.1 460.6 L585.1 459.6 L587.1 458.6 L589.2 457.7 L591.3 456.9 L593.4 456.2 L595.5 455.5 L597.7 455.0 L599.9 454.5 L602.1 454.1 L604.3 453.8 L606.5 453.5 L608.7 453.4 L611.0 453.3 L613.2 453.3 L615.4 453.4 L617.7 453.5 L619.9 453.7 L622.1 454.0 L624.4 454.4 L626.6 454.7 L628.9 455.2 L631.1 455.7 L633.4 456.2 L635.6 456.7 L637.8 457.3 L640.1 458.0 L642.3 458.6 L644.6 459.3 L646.8 460.0 L649.1 460.7 L651.3 461.5 L653.5 462.2 L655.8 463.0 L658.0 463.7 L660.3 464.5 L662.5 465.2 L664.7 466.0 L666.9 466.7 L669.2 467.4 L671.4 468.1 L673.6 468.7 L675.8 469.4 L678.0 470.0 L680.2 470.6 L682.4 471.2 L684.7 471.7 L686.9 472.3 L689.1 472.8 L691.3 473.2 L693.5 473.6 L695.7 474.0 L697.9 474.4 L700.1 474.7 L702.3 475.0 L704.6 475.3 L706.8 475.5 L709.0 475.6 L711.3 475.8 L713.5 475.8 L715.7 475.9 L718.0 475.9 L720.2 475.8 L722.5 475.7 L724.7 475.6 L727.0 475.5 L729.3 475.3 L731.5 475.1 L733.8 474.9 L736.1 474.6 L738.3 474.3 L740.6 474.0 L742.9 473.6 L745.2 473.3 L747.4 472.9 L749.7 472.5 L752.0 472.1 L754.2 471.7 L756.5 471.3 L758.8 470.9 L761.0 470.4 L763.3 470.0 L765.5 469.5 L767.8 469.1 L770.1 468.6 L772.3 468.2 L774.5 467.7 L776.8 467.3 L779.0 466.8 L781.3 466.4 L783.5 466.0 L785.7 465.5 L787.9 465.1 L790.2 464.7 L792.4 464.3 L794.6 463.8 L796.9 463.4 L799.1 463.0 L801.3 462.6 L803.5 462.2 L805.8 461.8 L808.0 461.4 L810.3 461.0 L812.5 460.6 L814.7 460.2 L817.0 459.8 L819.2 459.4 L821.5 459.1 L823.8 458.7 L826.0 458.3 L828.3 458.0 L830.6 457.6 L832.9 457.3 L835.1 457.0 L837.4 456.7 L839.7 456.4 L842.0 456.1 L844.3 455.8 L846.6 455.5 L848.8 455.3 L851.1 455.1 L853.4 454.8 L855.7 454.7 L858.0 454.5 L860.3 454.3 L862.6 454.2 L864.9 454.1 L867.1 454.0 L869.4 453.9 L871.7 453.9 L874.0 453.9 L876.3 453.9 L878.5 454.0 L880.8 454.0 L883.1 454.1 L885.3 454.3 L887.6 454.4 L889.8 454.6 L892.1 454.9 L894.3 455.1 L896.6 455.5 L898.8 455.8 L901.0 456.2 L903.3 456.6 L905.5 457.0 L907.7 457.5 L909.9 458.0 L912.1 458.6 L914.3 459.2 L916.4 459.8 L918.6 460.5 L920.8 461.2 L922.9 461.9 L925.1 462.6 L927.2 463.4 L929.4 464.2 L931.5 465.1 L933.6 465.9 L935.7 466.8 L937.8 467.8 L939.9 468.7 L941.9 469.7 L944.0 470.7 L946.0 471.8 L948.1 472.8 L950.1 473.9 L952.1 475.0 L954.1 476.1 L956.1 477.3 L958.1 478.5 L960.1 479.7 L962.0 480.9 L963.9 482.1 L965.9 483.4 L967.8 484.6 L969.7 485.9 L971.6 487.2 L973.5 488.5 L975.4 489.8 L977.3 491.1 L979.2 492.4 L981.1 493.7 L983.0 495.0 L984.9 496.3 L986.9 497.6 L988.8 498.9 L990.7 500.1 L992.6 501.4 L994.6 502.6 L996.5 503.8 L998.5 505.0 L1000.4 506.2 L1002.4 507.4 L1004.4 508.5 L1006.4 509.6 L1008.5 510.6 L1010.5 511.7 L1012.6 512.7 L1014.7 513.6 L1016.8 514.5 L1018.9 515.4 L1021.1 516.2 L1023.3 517.0 L1025.5 517.7 L1027.7 518.4 L1029.9 519.0 L1032.1 519.4 L1034.3 519.8 L1036.5 520.2 L1038.7 520.4 L1040.9 520.5 L1043.0 520.4 L1045.2 520.3 L1047.3 520.0 L1049.4 519.6 L1051.4 519.1 L1053.4 518.4 L1055.3 517.6 L1057.3 516.6 L1059.1 515.5 L1060.9 514.2 L1062.7 512.9 L1064.4 511.4 L1066.0 509.9 L1067.6 508.3 L1069.1 506.6 L1070.6 504.8 L1072.0 503.0 L1073.3 501.1 L1074.6 499.2 L1075.8 497.2 L1076.9 495.2 L1077.9 493.2 L1078.9 491.1 L1079.8 489.0 L1080.7 486.9 L1081.5 484.8 L1082.3 482.6 L1083.0 480.4 L1083.7 478.2 L1084.3 476.0 L1084.9 473.7 L1085.4 471.5 L1085.9 469.2 L1086.4 466.9 L1086.9 464.6 L1087.3 462.3 L1087.7 460.0 L1088.1 457.7 L1088.5 455.3 L1088.8 453.0 L1089.2 450.7 L1089.5 448.3 L1089.9 446.0 L1090.2 443.7 L1090.5 441.3 L1090.9 439.0 L1091.2 436.7 L1091.6 434.4 L1092.0 432.1 L1092.3 429.9 L1092.7 427.6 L1093.1 425.3 L1093.5 423.1 L1093.9 420.9 L1094.4 418.6 L1094.8 416.4 L1095.2 414.2 L1095.7 412.0 L1096.1 409.8 L1096.6 407.6 L1097.0 405.4 L1097.5 403.2 L1097.9 401.0 L1098.3 398.8 L1098.8 396.6 L1099.2 394.4 L1099.6 392.2 L1100.1 390.0 L1100.5 387.8 L1100.9 385.6 L1101.3 383.4 L1101.6 381.2 L1102.0 378.9 L1102.4 376.7 L1102.7 374.5 L1103.1 372.2 L1103.4 370.0 L1103.7 367.7 L1104.1 365.5 L1104.4 363.2 L1104.7 361.0 L1105.0 358.7 L1105.3 356.4 L1105.6 354.2 L1105.9 351.9 L1106.2 349.6 L1106.5 347.3 L1106.8 345.1 L1107.1 342.8 L1107.3 340.5 L1107.6 338.2 L1107.9 335.9 L1108.2 333.7 L1108.4 331.4 L1108.7 329.1 L1109.0 326.8 L1109.3 324.5 L1109.5 322.2 L1109.8 319.9 L1110.1 317.7 L1110.4 315.4 L1110.6 313.1 L1110.9 310.8 L1111.2 308.5 L1111.5 306.2 L1111.8 304.0 L1112.1 301.7 L1112.4 299.4 L1112.7 297.1 L1113.0 294.9 L1113.3 292.6 L1113.7 290.3 L1114.0 288.1 L1114.3 285.8 L1114.7 283.6 L1115.0 281.3 L1115.4 279.1 L1115.8 276.8 L1116.2 274.6 L1116.5 272.4 L1116.9 270.1 L1117.3 267.9 L1117.7 265.7 L1118.2 263.4 L1118.6 261.2 L1119.0 259.0 L1119.4 256.8 L1119.9 254.6 L1120.3 252.3 L1120.8 250.1 L1121.2 247.9 L1121.7 245.7 L1122.1 243.4 L1122.6 241.2 L1123.0 239.0 L1123.5 236.8 L1124.0 234.5 L1124.4 232.3 L1124.9 230.1 L1125.4 227.8 L1125.8 225.6 L1126.3 223.3 L1126.8 221.1 L1127.3 218.8 L1127.8 216.6 L1128.3 214.3 L1128.8 212.1 L1129.3 209.8 L1129.8 207.6 L1130.3 205.3 L1130.9 203.1 L1131.4 200.8 L1132.0 198.6 L1132.6 196.4 L1133.1 194.2 L1133.8 191.9 L1134.4 189.7 L1135.0 187.5 L1135.7 185.3 L1136.4 183.1 L1137.1 180.9 L1137.8 178.7 L1138.5 176.6 L1139.3 174.4 L1140.1 172.3 L1140.9 170.1 L1141.8 168.0 L1142.6 165.9 L1143.5 163.8 L1144.5 161.7 L1145.4 159.6 L1146.4 157.6 L1147.4 155.5 L1148.5 153.5 L1149.6 151.5 L1150.7 149.5 L1151.8 147.5 L1153.0 145.5 L1154.2 143.6 L1155.5 141.7 L1156.8 139.8 L1158.1 137.9 L1159.5 136.1 L1160.9 134.3 L1162.3 132.5 L1163.8 130.8 L1165.4 129.1 L1166.9 127.5 L1168.6 125.9 L1170.2 124.4 L1171.9 122.9 L1173.7 121.4 L1175.4 120.1 L1177.3 118.8 L1179.2 117.5 L1181.1 116.3 L1183.0 115.1 L1185.0 114.0 L1187.0 113.0 L1189.1 112.0 L1191.2 111.1 L1193.3 110.2 L1195.4 109.3 L1197.6 108.5 L1199.8 107.7 L1202.0 107.0 L1204.2 106.3 L1206.4 105.7 L1208.6 105.1 L1210.9 104.5 L1213.1 104.0 L1215.4 103.5 L1217.6 103.0 L1219.9 102.6 L1222.1 102.2 L1224.4 101.8 L1226.7 101.4 L1229.0 101.1 L1231.3 100.8 L1233.5 100.5 L1235.8 100.3 L1238.1 100.0 L1240.4 99.8 L1242.7 99.6 L1245.0 99.4 L1247.3 99.3 L1249.6 99.1 L1251.9 99.0 L1254.2 98.8 L1256.5 98.7 L1258.8 98.6 L1261.1 98.5 L1263.4 98.4 L1265.7 98.3 L1267.9 98.2 L1270.2 98.1 L1272.5 98.0 L1274.8 97.9 L1277.1 97.8 L1279.3 97.7 L1281.6 97.7 L1283.9 97.6 L1286.2 97.5 L1288.4 97.5 L1290.7 97.4 L1293.0 97.4 L1295.2 97.3 L1297.5 97.3 L1299.8 97.2 L1302.1 97.2 L1304.3 97.1 L1306.6 97.1 L1308.9 97.0 L1311.1 97.0 L1313.4 97.0 L1315.7 96.9 L1318.0 96.9 L1320.2 96.9 L1322.5 96.8 L1324.8 96.8 L1327.1 96.8 L1329.4 96.7 L1331.7 96.7 L1333.9 96.7 L1336.2 96.7 L1338.5 96.6 L1340.8 96.6 L1343.1 96.6 L1345.4 96.6 L1347.7 96.5 L1350.0 96.5 L1350.0 96.5 L1420.0 96.5 L1465.0 96.5" stroke="#008000"/>
</g>
<g fill="#000">
<rect x="853" y="53.0" width="6" height="22.0" rx="2"/>
<rect x="853" y="97.5" width="6" height="43.2" rx="2"/>
<rect x="853" y="161.6" width="6" height="43.2" rx="2"/>
<rect x="853" y="225.7" width="6" height="43.2" rx="2"/>
<rect x="853" y="289.8" width="6" height="43.2" rx="2"/>
<rect x="853" y="353.9" width="6" height="43.2" rx="2"/>
<rect x="853" y="418.0" width="6" height="43.2" rx="2"/>
<rect x="853" y="482.1" width="6" height="43.2" rx="2"/>
<rect x="853" y="546.2" width="6" height="43.2" rx="2"/>
<rect x="853" y="610.3" width="6" height="43.2" rx="2"/>
<rect x="853" y="674.4" width="6" height="43.2" rx="2"/>
<rect x="853" y="738.5" width="6" height="43.2" rx="2"/>
<rect x="853" y="802.6" width="6" height="43.2" rx="2"/>
</g>
<g shape-rendering="crispEdges"><rect x="1120" y="73" width="325" height="272" fill="#000"/><rect x="1121" y="75" width="323" height="268" fill="#fff"/></g>
<rect x="1142" y="117" width="113" height="10" fill="#ff0000" shape-rendering="crispEdges"/>
<rect x="1142" y="204" width="113" height="10" fill="#0000ff" shape-rendering="crispEdges"/>
<rect x="1142" y="288.5" width="113" height="10" fill="#008000" shape-rendering="crispEdges"/>
<text transform="translate(143.3,66) scale(0.815,1)" font-size="64.6">1</text>
<text transform="translate(176.8,66) scale(0.815,1)" font-size="64.6">0</text>
<text transform="translate(210.6,66) scale(0.815,1)" font-size="64.6">0</text>
<text transform="translate(143.3,870) scale(0.815,1)" font-size="64.6">1</text>
<text transform="translate(176.8,870) scale(0.815,1)" font-size="64.6">0</text>
<text transform="translate(210.6,870) scale(0.815,1)" font-size="64.6">0</text>
<text transform="translate(177.8,265) scale(0.755,1)" font-size="64.6">5</text>
<text transform="translate(210.6,265) scale(0.815,1)" font-size="64.6">0</text>
<text transform="translate(177.8,668) scale(0.755,1)" font-size="64.6">5</text>
<text transform="translate(210.6,668) scale(0.815,1)" font-size="64.6">0</text>
<text transform="translate(210.6,468) scale(0.815,1)" font-size="64.6">0</text>
<text x="157" y="668" font-size="64.6" textLength="31" lengthAdjust="spacingAndGlyphs">−</text>
<text x="123" y="870" font-size="64.6" textLength="31" lengthAdjust="spacingAndGlyphs">−</text>
<text transform="translate(439.6,918) scale(0.815,1)" font-size="64.6">0</text>
<text x="471.2" y="918" font-size="64.6">.</text>
<text transform="translate(490.9,918) scale(0.755,1)" font-size="64.6">5</text>
<text transform="translate(841.5,918) scale(0.815,1)" font-size="64.6">1</text>
<text transform="translate(1192.4,918) scale(0.815,1)" font-size="64.6">1</text>
<text x="1225.2" y="918" font-size="64.6">.</text>
<text transform="translate(1244.9,918) scale(0.755,1)" font-size="64.6">5</text>
<text transform="translate(1266,135.9) scale(0.56,1)" font-size="64.6">Q</text>
<text transform="translate(1309,135.9) scale(0.815,1)" font-size="64.6">=</text>
<text transform="translate(1343.6,135.9) scale(0.815,1)" font-size="64.6">0</text>
<text x="1376.1" y="135.9" font-size="64.6">.</text>
<text transform="translate(1395.4,135.9) scale(0.78,1)" font-size="64.6">7</text>
<text transform="translate(1266,222.7) scale(0.56,1)" font-size="64.6">Q</text>
<text transform="translate(1309,222.7) scale(0.815,1)" font-size="64.6">=</text>
<text transform="translate(1343.6,222.7) scale(0.815,1)" font-size="64.6">0</text>
<text x="1376.1" y="222.7" font-size="64.6">.</text>
<text transform="translate(1395.4,222.7) scale(0.78,1)" font-size="64.6">9</text>
<text transform="translate(1266,308) scale(0.56,1)" font-size="64.6">Q</text>
<text transform="translate(1309,308) scale(0.815,1)" font-size="64.6">=</text>
<text transform="translate(1343.6,308) scale(0.815,1)" font-size="64.6">1</text>
<text x="1376.1" y="308" font-size="64.6">.</text>
<text transform="translate(1395.8,308.0) scale(0.78,1)" font-size="64.6">2</text>
<text x="692.8" y="996.5" font-size="58" textLength="412.2" lengthAdjust="spacingAndGlyphs">Frequency (f<tspan font-size="38.5" dy="8">s</tspan><tspan dy="-8">/f</tspan><tspan font-size="38.5" dy="8">o</tspan><tspan dy="-8">)</tspan></text>
<text transform="translate(61,742.8) rotate(-90)" font-size="58" textLength="418.6" lengthAdjust="spacingAndGlyphs">Arg[Z<tspan font-size="38.5" dy="8">in</tspan><tspan dy="-8">] (degree)</tspan></text>
<text class="s" x="890" y="810" font-size="78" font-weight="bold" font-style="italic">ω</text>
<text class="s" transform="translate(945.3,824) scale(1.17,1)" font-size="53" font-weight="bold">0</text>
</svg></body></html>
